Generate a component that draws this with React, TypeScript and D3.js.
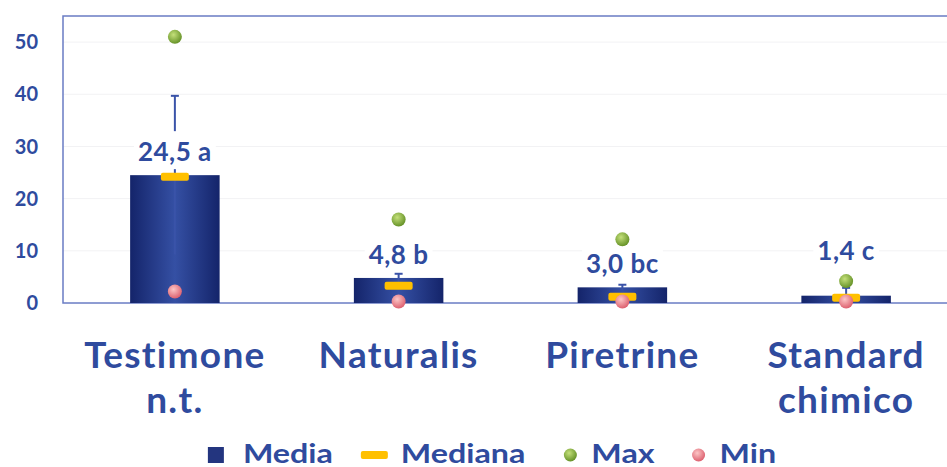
import React, { useEffect, useRef } from 'react';
import * as d3 from 'd3';

const categories = ['Testimone n.t.', 'Naturalis', 'Piretrine', 'Standard chimico'];
const categoryLines = [['Testimone', 'n.t.'], ['Naturalis'], ['Piretrine'], ['Standard', 'chimico']];
const media = [24.5, 4.8, 3.0, 1.4];
const errore = [15.2, 0.8, 0.5, 1.5];
const mediana = [24.2, 3.3, 1.2, 1.0];
const maxVal = [51, 16, 12.2, 4.2];
const minVal = [2.2, 0.3, 0.3, 0.3];
const lettere = ['a', 'b', 'bc', 'c'];
const yTicks = [0, 10, 20, 30, 40, 50];
const legendItems = ['Media', 'Mediana', 'Max', 'Min'];

const W = 947;
const H = 467;
const BLUE = '#2f4b9e';
const FONT = 'Lato, "Open Sans", sans-serif';

export default function App() {
  const svgRef = useRef<SVGSVGElement>(null);

  useEffect(() => {
    const svg = d3.select(svgRef.current);
    svg.html('');

    const left = 63, top = 16, bottom = 303, right = 958;
    const x = d3.scaleBand().domain(categories).range([left, right]).paddingInner(0.6).paddingOuter(0.3);
    const y = d3.scaleLinear().domain([0, 55]).range([bottom, top]);

    const defs = svg.append('defs');
    const bg = defs.append('linearGradient').attr('id', 'barGrad').attr('x1', '0').attr('x2', '1').attr('y1', '0').attr('y2', '0');
    bg.append('stop').attr('offset', '0%').attr('stop-color', '#14246a');
    bg.append('stop').attr('offset', '50%').attr('stop-color', '#3550a4');
    bg.append('stop').attr('offset', '100%').attr('stop-color', '#14246a');
    const gg = defs.append('radialGradient').attr('id', 'greenGrad').attr('cx', '0.4').attr('cy', '0.35').attr('r', '0.7');
    gg.append('stop').attr('offset', '0%').attr('stop-color', '#c4e07a');
    gg.append('stop').attr('offset', '100%').attr('stop-color', '#5f8c22');
    const pg = defs.append('radialGradient').attr('id', 'pinkGrad').attr('cx', '0.4').attr('cy', '0.35').attr('r', '0.7');
    pg.append('stop').attr('offset', '0%').attr('stop-color', '#fcc6c6');
    pg.append('stop').attr('offset', '100%').attr('stop-color', '#db5a6a');

    // griglia leggera
    svg.append('g').selectAll('line').data(yTicks.slice(1)).join('line')
      .attr('x1', left).attr('x2', right).attr('y1', d => y(d)).attr('y2', d => y(d))
      .attr('stroke', '#f2f2f4').attr('stroke-width', 1);

    // cornice
    svg.append('rect').attr('x', left).attr('y', top).attr('width', right - left).attr('height', bottom - top)
      .attr('fill', 'none').attr('stroke', '#6a7cc4').attr('stroke-width', 1.5);

    // tick asse y
    svg.append('g').selectAll('text').data(yTicks).join('text')
      .attr('x', 38).attr('y', d => y(d)).attr('dy', '0.36em')
      .attr('text-anchor', 'end').attr('font-family', FONT).attr('font-weight', 700)
      .attr('font-size', 20).attr('fill', BLUE).text(d => d);

    const idx = d3.range(categories.length);
    const bw = x.bandwidth();
    const cx = (i: number) => (x(categories[i]) as number) + bw / 2;

    // barre
    svg.append('g').selectAll('rect').data(idx).join('rect')
      .attr('x', i => x(categories[i]) as number).attr('width', bw)
      .attr('y', i => y(media[i])).attr('height', i => y(0) - y(media[i]))
      .attr('fill', 'url(#barGrad)');

    // barre d'errore
    const eb = svg.append('g').attr('stroke', '#3a53a8').attr('stroke-width', 2);
    eb.selectAll('line.v').data(idx).join('line').attr('class', 'v')
      .attr('x1', cx).attr('x2', cx)
      .attr('y1', i => y(Math.max(0, media[i] - errore[i]))).attr('y2', i => y(media[i] + errore[i]));
    eb.selectAll('line.c').data(idx).join('line').attr('class', 'c')
      .attr('x1', i => cx(i) - 4).attr('x2', i => cx(i) + 4)
      .attr('y1', i => y(media[i] + errore[i])).attr('y2', i => y(media[i] + errore[i]));

    // etichette
    const labY = (i: number) => {
      const yb = y(media[i]);
      const ym = y(maxVal[i]);
      return yb - ym < 30 ? ym - 21 : yb - 14;
    };
    const lab = svg.append('g');
    idx.forEach(i => {
      const g = lab.append('g');
      const t = g.append('text').attr('x', cx(i)).attr('y', labY(i)).attr('text-anchor', 'middle')
        .attr('font-family', FONT).attr('font-weight', 700).attr('font-size', 26).attr('fill', BLUE)
        .attr('letter-spacing', 0.5)
        .text(`${d3.format('.1f')(media[i]).replace('.', ',')} ${lettere[i]}`);
      const b = (t.node() as SVGTextElement).getBBox();
      g.insert('rect', 'text').attr('x', b.x - 4).attr('y', b.y - 4).attr('width', b.width + 8)
        .attr('height', b.height + 6).attr('fill', '#fff');
    });

    // mediana
    svg.append('g').selectAll('rect').data(idx).join('rect')
      .attr('x', i => cx(i) - 14).attr('y', i => y(mediana[i]) - 4).attr('width', 28).attr('height', 8)
      .attr('rx', 2).attr('fill', '#ffc000');

    // max / min
    svg.append('g').selectAll('circle').data(idx).join('circle')
      .attr('cx', cx).attr('cy', i => y(maxVal[i])).attr('r', 7).attr('fill', 'url(#greenGrad)');
    svg.append('g').selectAll('circle').data(idx).join('circle')
      .attr('cx', cx).attr('cy', i => y(minVal[i])).attr('r', 7).attr('fill', 'url(#pinkGrad)');

    // categorie
    const cat = svg.append('g');
    idx.forEach(i => {
      categoryLines[i].forEach((line, k) => {
        cat.append('text').attr('x', cx(i)).attr('y', 368 + k * 45).attr('text-anchor', 'middle')
          .attr('font-family', FONT).attr('font-weight', 700).attr('font-size', 37).attr('fill', BLUE)
          .attr('letter-spacing', 1.3)
          .text(line);
      });
    });

    // legenda
    const leg = svg.append('g');
    const ly = 455;
    const sx = 1.24;
    const gaps = [28, 38, 37, 0];
    let lx = 0;
    legendItems.forEach((name, k) => {
      if (k === 0) {
        leg.append('rect').attr('x', lx).attr('y', ly - 8).attr('width', 16).attr('height', 16).attr('fill', '#23357f');
        lx += 35;
      } else if (k === 1) {
        leg.append('rect').attr('x', lx).attr('y', ly - 4).attr('width', 27).attr('height', 8).attr('rx', 2).attr('fill', '#ffc000');
        lx += 40;
      } else {
        leg.append('circle').attr('cx', lx + 7).attr('cy', ly).attr('r', 6.5)
          .attr('fill', k === 2 ? 'url(#greenGrad)' : 'url(#pinkGrad)');
        lx += 28;
      }
      const t = leg.append('text').attr('transform', `translate(${lx},${ly + 8}) scale(${sx},1)`)
        .attr('font-family', FONT).attr('font-weight', 700).attr('font-size', 26).attr('fill', BLUE).text(name);
      lx += (t.node() as SVGTextElement).getComputedTextLength() * sx + gaps[k];
    });
    leg.attr('transform', `translate(${492 - lx / 2},0)`);
  }, []);

  return (
    <svg ref={svgRef} width={W} height={H}
      style={{ position: 'absolute', left: 0, top: 0, background: '#fff', display: 'block' }} />
  );
}
